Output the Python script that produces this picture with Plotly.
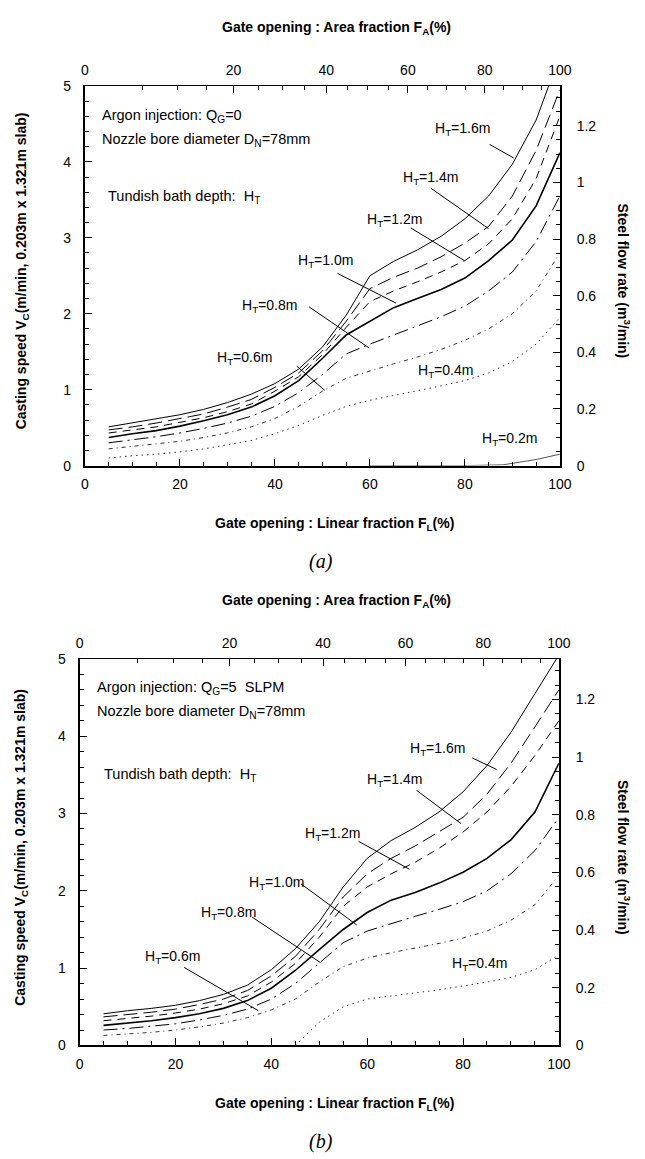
import plotly.graph_objects as go

W, H = 645, 1159

# ---------------- data ----------------
FL = [5, 10, 15, 20, 25, 30, 35, 40, 45, 50, 55, 60, 65, 70, 75, 80, 85, 90, 95, 100]

# Panel (a): Q_G = 0
a_16 = [0.51, 0.56, 0.61, 0.67, 0.74, 0.83, 0.94, 1.08, 1.27, 1.56, 1.98, 2.50, 2.69, 2.84, 3.02, 3.25, 3.55, 3.97, 4.55, 5.40]
a_14 = [0.47, 0.51, 0.56, 0.62, 0.68, 0.77, 0.87, 1.03, 1.22, 1.51, 1.90, 2.33, 2.48, 2.60, 2.75, 2.93, 3.15, 3.55, 4.15, 4.95]
a_12 = [0.43, 0.47, 0.51, 0.57, 0.63, 0.71, 0.81, 0.98, 1.17, 1.46, 1.82, 2.16, 2.30, 2.42, 2.55, 2.70, 2.92, 3.25, 3.78, 4.60]
a_10 = [0.37, 0.42, 0.46, 0.52, 0.59, 0.67, 0.77, 0.92, 1.12, 1.41, 1.72, 1.90, 2.08, 2.20, 2.32, 2.47, 2.70, 2.97, 3.42, 4.12]
a_08 = [0.30, 0.34, 0.38, 0.43, 0.49, 0.56, 0.65, 0.78, 0.96, 1.20, 1.47, 1.60, 1.72, 1.84, 1.96, 2.10, 2.30, 2.55, 2.95, 3.55]
a_06 = [0.22, 0.25, 0.28, 0.32, 0.37, 0.43, 0.51, 0.62, 0.78, 0.98, 1.15, 1.25, 1.34, 1.43, 1.53, 1.65, 1.80, 2.00, 2.30, 2.80]
a_04 = [0.10, 0.13, 0.15, 0.18, 0.22, 0.27, 0.33, 0.42, 0.53, 0.66, 0.78, 0.86, 0.92, 0.98, 1.05, 1.12, 1.22, 1.37, 1.60, 1.95]
a_02_x = [60, 70, 80, 88, 90, 95, 100]
a_02 = [0.0, 0.0, 0.0, 0.01, 0.03, 0.08, 0.15]

# Panel (b): Q_G = 5 SLPM
b_16 = [0.41, 0.45, 0.48, 0.52, 0.58, 0.66, 0.78, 0.98, 1.25, 1.60, 2.05, 2.42, 2.65, 2.82, 3.02, 3.28, 3.62, 4.05, 4.55, 5.05]
b_14 = [0.37, 0.40, 0.43, 0.47, 0.53, 0.60, 0.71, 0.90, 1.15, 1.50, 1.92, 2.22, 2.42, 2.58, 2.77, 2.95, 3.25, 3.65, 4.12, 4.60]
b_12 = [0.32, 0.35, 0.38, 0.42, 0.47, 0.54, 0.64, 0.82, 1.06, 1.40, 1.80, 2.05, 2.22, 2.37, 2.55, 2.76, 3.02, 3.35, 3.75, 4.20]
b_10 = [0.26, 0.29, 0.32, 0.36, 0.41, 0.48, 0.58, 0.74, 0.97, 1.24, 1.50, 1.72, 1.88, 1.98, 2.10, 2.24, 2.42, 2.66, 3.02, 3.65]
b_08 = [0.20, 0.22, 0.25, 0.28, 0.33, 0.39, 0.47, 0.60, 0.80, 1.07, 1.33, 1.48, 1.58, 1.67, 1.76, 1.86, 2.00, 2.22, 2.52, 2.95]
b_06 = [0.13, 0.15, 0.17, 0.20, 0.24, 0.29, 0.36, 0.46, 0.60, 0.82, 1.02, 1.13, 1.20, 1.26, 1.32, 1.39, 1.48, 1.62, 1.82, 2.20]
b_04_x = [45, 47, 50, 55, 60, 65, 70, 75, 80, 85, 90, 95, 100]
b_04 = [0.0, 0.12, 0.30, 0.50, 0.60, 0.64, 0.68, 0.72, 0.77, 0.82, 0.88, 0.98, 1.17]

# Top axis: area fraction ticks, positioned at the linear-fraction values
FA_major_labels = ["0", "20", "40", "60", "80", "100"]
FA_major_pos = [0.0, 31.3, 50.8, 68.0, 84.2, 100.0]
FA_minor_pos = [12.1, 19.5, 25.7, 36.5, 41.5, 46.2, 55.3, 59.6, 63.9, 72.1, 76.2, 80.2, 88.2, 92.1, 96.1]

# Right axis: steel flow rate (m3/min)
Q_ticks = [0, 0.2, 0.4, 0.6, 0.8, 1.0, 1.2]
Q_labels = ["0", "0.2", "0.4", "0.6", "0.8", "1", "1.2"]
Q_MAX = 5 * 0.203 * 1.321

FL_ticks = [0, 20, 40, 60, 80, 100]
V_ticks = [0, 1, 2, 3, 4, 5]

# ---------------- styles ----------------
STY = {
    "1.6": dict(color="black", width=1.0, dash="solid"),
    "1.4": dict(color="black", width=1.0, dash="14px,6px"),
    "1.2": dict(color="black", width=1.0, dash="8px,6px"),
    "1.0": dict(color="black", width=1.6, dash="solid"),
    "0.8": dict(color="black", width=1.0, dash="14px,5px,2px,5px"),
    "0.6": dict(color="#333", width=1.0, dash="4px,4px,1px,4px"),
    "0.4": dict(color="#333", width=1.0, dash="1.5px,4px"),
    "0.2": dict(color="#555", width=1.0, dash="solid"),
}

FONT = "Liberation Sans, Arial, sans-serif"
fig = go.Figure()


def px2x(px):
    return px / W


def px2y(py):
    return 1 - py / H


panels = [
    dict(
        xa="x", ya="y", xt="x2", yr="y2",
        box=(83, 570, 79, 464),
        curves=[("1.6", FL, a_16), ("1.4", FL, a_14), ("1.2", FL, a_12), ("1.0", FL, a_10),
                ("0.8", FL, a_08), ("0.6", FL, a_06), ("0.4", FL, a_04), ("0.2", a_02_x, a_02)],
        labels=[("1.6", 79.5, 4.43), ("1.4", 72.7, 3.79), ("1.2", 65.1, 3.23), ("1.0", 50.7, 2.69),
                ("0.8", 38.8, 2.10), ("0.6", 33.7, 1.42), ("0.4", 76.0, 1.25), ("0.2", 89.3, 0.35)],
        leaders=[((85.2, 4.23), (90.3, 4.05)), ((72.9, 3.65), (85.0, 3.12)), ((68.6, 3.13), (79.9, 2.70)),
                 ((53.2, 2.53), (65.5, 2.14)), ((47.2, 2.09), (59.8, 1.55)), ((44.6, 1.31), (50.5, 0.99))],
        texts=[("Argon injection: Q<sub>G</sub>=0", 98, 110), ("Nozzle bore diameter D<sub>N</sub>=78mm", 98, 134),
               ("Tundish bath depth:  H<sub>T</sub>", 105, 192)],
        tag="(a)",
    ),
    dict(
        xa="x3", ya="y3", xt="x4", yr="y4",
        box=(77.5, 569, 660, 1052),
        curves=[("1.6", FL, b_16), ("1.4", FL, b_14), ("1.2", FL, b_12), ("1.0", FL, b_10),
                ("0.8", FL, b_08), ("0.6", FL, b_06), ("0.4", b_04_x, b_04)],
        labels=[("1.6", 74.7, 3.83), ("1.4", 65.6, 3.43), ("1.2", 52.7, 2.74), ("1.0", 41.1, 2.10),
                ("0.8", 31.0, 1.71), ("0.6", 19.3, 1.14), ("0.4", 83.5, 1.05)],
        leaders=[((81.9, 3.72), (87.0, 3.57)), ((70.3, 3.30), (79.6, 2.87)), ((58.2, 2.64), (68.8, 2.28)),
                 ((46.2, 2.09), (57.8, 1.56)), ((36.0, 1.66), (50.3, 1.07)), ((21.8, 1.01), (37.3, 0.45))],
        texts=[("Argon injection: Q<sub>G</sub>=5  SLPM", 93, 690), ("Nozzle bore diameter D<sub>N</sub>=78mm", 93, 714),
               ("Tundish bath depth:  H<sub>T</sub>", 100, 778)],
        tag="(b)",
    ),
]

annotations = []
shapes = []
layout_axes = {}

for p in panels:
    x0, x1, y0, y1 = p["box"]
    xdom = [px2x(x0), px2x(x1)]
    ydom = [px2y(y1), px2y(y0)]
    xa, ya, xt, yr = p["xa"], p["ya"], p["xt"], p["yr"]
    xkey = "xaxis" + xa[1:]
    ykey = "yaxis" + ya[1:]
    xtkey = "xaxis" + xt[1:]
    yrkey = "yaxis" + yr[1:]

    common = dict(showgrid=False, zeroline=False, showline=True, linecolor="black",
                  ticks="inside", tickcolor="black", tickfont=dict(family=FONT, size=14, color="black"))
    layout_axes[xkey] = dict(common, domain=xdom, anchor=ya, range=[0, 100], tickvals=FL_ticks,
                             ticklen=7, tickwidth=1, linewidth=2, ticklabelstandoff=5,
                             minor=dict(dtick=5, tick0=0, ticklen=4, ticks="inside", tickcolor="black"))
    layout_axes[ykey] = dict(common, domain=ydom, anchor=xa, range=[0, 5], tickvals=V_ticks,
                             ticklen=7, tickwidth=1, linewidth=2, ticklabelstandoff=9,
                             minor=dict(dtick=0.2, tick0=0, ticklen=4, ticks="inside", tickcolor="black"))
    layout_axes[xtkey] = dict(common, domain=xdom, anchor=ya, overlaying=xa, side="top", range=[0, 100],
                              tickvals=FA_major_pos, ticktext=FA_major_labels, ticklen=7, linewidth=1,
                              ticklabelstandoff=4,
                              minor=dict(tickmode="array", tickvals=FA_minor_pos, ticklen=4, ticks="inside",
                                         tickcolor="black"))
    layout_axes[yrkey] = dict(common, domain=ydom, anchor=xa, overlaying=ya, side="right", range=[0, Q_MAX],
                              tickvals=Q_ticks, ticktext=Q_labels, ticklen=7, linewidth=2, ticklabelstandoff=12,
                              minor=dict(dtick=0.05, tick0=0, ticklen=4, ticks="inside", tickcolor="black"))

    for name, xs, ys in p["curves"]:
        s = STY[name]
        fig.add_trace(go.Scatter(x=xs, y=ys, mode="lines", xaxis=xa, yaxis=ya, showlegend=False,
                                 line=dict(color=s["color"], width=s["width"], dash=s["dash"]),
                                 hoverinfo="skip"))
    fig.add_trace(go.Scatter(x=[None], y=[None], xaxis=xt, yaxis=yr, showlegend=False, mode="lines"))

    for name, lx, ly in p["labels"]:
        annotations.append(dict(x=lx, y=ly, xref=xa, yref=ya, showarrow=False, xanchor="center",
                                yanchor="middle", text=f"H<sub>T</sub>={name}m",
                                font=dict(family=FONT, size=14, color="black")))
    for (sx, sy), (ex, ey) in p["leaders"]:
        shapes.append(dict(type="line", xref=xa, yref=ya, x0=sx, y0=sy, x1=ex, y1=ey,
                           line=dict(color="black", width=1)))
    for t, tx, ty in p["texts"]:
        annotations.append(dict(x=px2x(tx), y=px2y(ty), xref="paper", yref="paper", xanchor="left",
                                yanchor="middle", showarrow=False, text=t,
                                font=dict(family=FONT, size=14.5, color="black")))

    bold = dict(family=FONT, size=14, color="black")
    mid = dict(xref="paper", yref="paper", showarrow=False, xanchor="center", yanchor="middle")
    annotations.append(dict(mid, x=px2x(341), y=px2y(y0 - 59),
                            text="<b>Gate opening : Area fraction F<sub>A</sub>(%)</b>", font=bold))
    annotations.append(dict(mid, x=px2x(339), y=px2y(y1 + 59),
                            text="<b>Gate opening : Linear fraction F<sub>L</sub>(%)</b>", font=bold))
    annotations.append(dict(mid, x=px2x(18), y=px2y((y0 + y1) / 2 - 5), textangle=-90,
                            text="<b>Casting speed V<sub>C</sub>(m/min, 0.203m x 1.321m slab)</b>", font=bold))
    annotations.append(dict(mid, x=px2x(636), y=px2y((y0 + y1) / 2 + 5), textangle=90,
                            text="<b>Steel flow rate (m<sup>3</sup>/min)</b>", font=bold))
    annotations.append(dict(mid, x=px2x(325), y=px2y(y1 + 97), text=f"<i>{p['tag']}</i>",
                            font=dict(family="Liberation Serif, Times New Roman, serif", size=20, color="black")))

fig.update_layout(
    width=W, height=H, margin=dict(l=0, r=0, t=0, b=0),
    paper_bgcolor="white", plot_bgcolor="white",
    annotations=annotations, shapes=shapes, **layout_axes,
)

fig.write_html("out.html")
